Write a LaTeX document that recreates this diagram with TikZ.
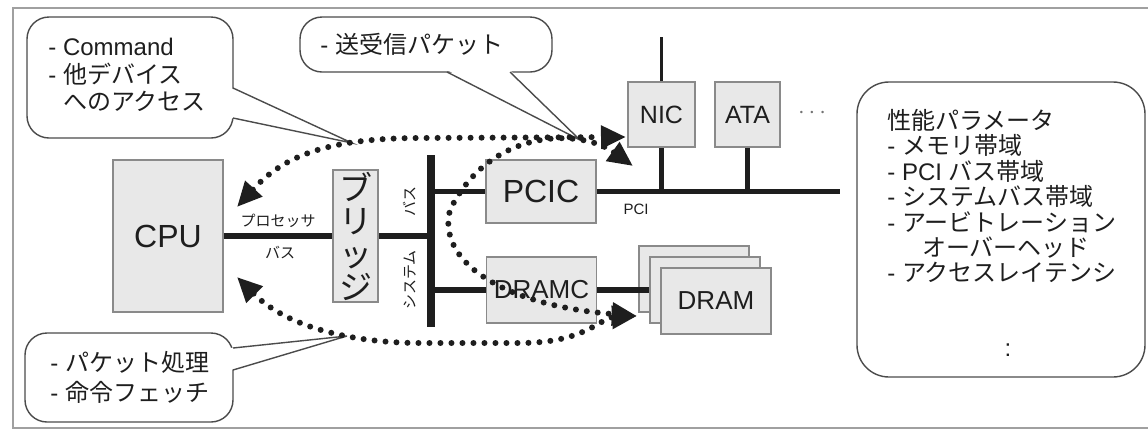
\documentclass[tikz,border=0pt]{standalone}
\usepackage{fontspec}
\setmainfont{Liberation Sans}
\newfontfamily\jpfont{Noto Sans CJK JP}
\usetikzlibrary{arrows.meta}
\definecolor{boxgray}{HTML}{E8E8E8}
\definecolor{edgegray}{HTML}{8A8A8A}
\definecolor{ink}{HTML}{1E1E1E}
\definecolor{framegray}{HTML}{A0A0A0}
\tikzset{
  unit/.style={draw=edgegray,fill=boxgray,line width=0.8pt,inner sep=0pt,
    minimum width=55pt,minimum height=33pt,font=\fontsize{13}{15}\selectfont},
  callout/.style={draw=ink!80,fill=white,line width=0.7pt,rounded corners=11pt},
  tail/.style={draw=ink!80,line width=0.7pt},
  note/.style={align=left,inner sep=0pt,anchor=north west,
    font=\fontsize{12}{13.75}\selectfont},
  bus/.style={line width=2.6pt,draw=ink},
  tiny/.style={inner sep=0pt,font=\jpfont\fontsize{7.5}{9}\selectfont},
  dotflow/.style={draw=ink,line width=3pt,line cap=round,
    dash pattern=on 0pt off 5.5pt,<->},
  >={Triangle[length=12.5pt,width=11pt]}
}

\begin{document}
\begin{tikzpicture}[x=0.5pt,y=-0.5pt,font=\fontsize{12}{14}\selectfont,text=ink]
  \useasboundingbox (0,0) rectangle (1148,430);
  \draw[framegray,line width=1.4pt] (1152,8) -- (13,8) -- (13,428) -- (1152,428);

  % speech bubbles
  \coordinate (tipA) at (352,143);
  \draw[callout] (27,17) rectangle (233,138);
  \fill[white] (231,88) -- (tipA) -- (231,118) -- cycle;
  \draw[tail] (233,88) -- (tipA) -- (233,118);
  \node[note] (cmdnote) at (48,38)
    {- Command\\- {\jpfont 他デバイス}\\\phantom{- }{\jpfont へのアクセス}};

  \coordinate (tipB) at (580,140);
  \draw[callout] (300,17) rectangle (552,72);
  \fill[white] (447,70) -- (tipB) -- (510,70) -- cycle;
  \draw[tail] (447,72) -- (tipB) -- (510,72);
  \node[note,anchor=west] (pktnote) at (320,44) {- {\jpfont 送受信パケット}};

  \coordinate (tipC) at (347,336);
  \draw[callout] (25,333) rectangle (233,422);
  \fill[white] (231,348) -- (tipC) -- (231,370) -- cycle;
  \draw[tail] (233,348) -- (tipC) -- (233,370);
  \node[note,font=\fontsize{12}{15}\selectfont] (cpunote) at (50,351)
    {- {\jpfont パケット処理}\\- {\jpfont 命令フェッチ}};

  % parameters
  \draw[draw=ink!80,line width=0.7pt,rounded corners=16pt] (857,82) rectangle (1145,377);
  \node[note,font=\fontsize{12}{12.7}\selectfont] (params) at (887,109)
    {{\jpfont 性能パラメータ}\\
     - {\jpfont メモリ帯域}\\
     - PCI {\jpfont バス帯域}\\
     - {\jpfont システムバス帯域}\\
     - {\jpfont アービトレーション}\\
     \phantom{- }\hspace{10pt}{\jpfont オーバーヘッド}\\
     - {\jpfont アクセスレイテンシ}};
  \node[inner sep=0pt] (pvdots) at (1008,350) {:};

  % components
  \node[unit,minimum width=55pt,minimum height=76pt,font=\fontsize{16}{18}\selectfont]
    (cpu) at (168,236) {CPU};
  \node[unit,minimum width=22.5pt,minimum height=66pt,align=center,
    font=\jpfont\fontsize{16.5}{16.5}\selectfont] (bridge) at (355.5,236) {ブ\\リ\\ッ\\ジ};
  \node[unit,minimum height=31.5pt,font=\fontsize{16}{18}\selectfont]
    (pcic) at (541,191.5) {PCIC};
  \node[unit,minimum width=33.5pt,minimum height=32.5pt,font=\fontsize{12.5}{14}\selectfont]
    (nic) at (661.5,114.5) {NIC};
  \node[unit,minimum width=32.5pt,minimum height=32.5pt,font=\fontsize{12.5}{14}\selectfont]
    (ata) at (747.5,114.5) {ATA};
  \node[text=black!55] (more) at (812,113) {$\cdots$};
  \node[unit] (dramc) at (541.5,290) {DRAMC};
  \node[unit] (dramback) at (694,279) {};
  \draw[bus] (dramc.east) -- (dramc.east -| dramback.west) -- ++(14,0);
  \node[unit] (drammid) at (705,290) {};
  \node[unit] (dram) at (716,301) {DRAM};

  % buses
  \coordinate (sysTop) at (431,155);
  \coordinate (sysBot) at (431,327);
  \coordinate (pciEnd) at (840,191.5);
  \coordinate (netTop) at (661.5,37);
  \draw[bus,line width=3.6pt] (sysTop) -- (sysBot);
  \draw[bus] (cpu) -- (bridge);
  \draw[bus] (bridge.east) -- (bridge.east -| sysTop);
  \draw[bus] (pcic.west -| sysTop) -- (pcic.west);
  \draw[bus] (dramc.west -| sysTop) -- (dramc.west);
  \draw[bus] (pcic.east) -- (pciEnd);
  \draw[bus,line width=2.1pt] (nic.south) -- (nic.south |- pciEnd);
  \draw[bus,line width=2.1pt] (ata.south) -- (ata.south |- pciEnd);
  \draw[bus,line width=1.1pt] (nic.north) -- (netTop);

  \node[tiny] (pbusup) at (278,221) {プロセッサ};
  \node[tiny] (pbusdn) at (280,253) {バス};
  \node[tiny,rotate=90] (sbusup) at (410,201) {バス};
  \node[tiny,rotate=90] (sbusdn) at (410,280) {システム};
  \node[inner sep=0pt,font=\fontsize{7.5}{9}\selectfont] (pcilbl) at (636,209) {PCI};

  % traffic
  \coordinate (cpuUp) at (237,207);
  \coordinate (cpuDn) at (237,277);
  \coordinate (nicIn) at (626,137);
  \coordinate (nicDn) at (633,166);
  \coordinate (dramIn) at (637,316);
  \draw[dotflow] (cpuUp) .. controls (280,160) and (320,138) .. (420,138) -- (nicIn);
  \draw[dotflow] (nicDn) .. controls (580,128) and (490,128) .. (450,210)
    .. controls (437,260) and (500,305) .. (dramIn);
  \draw[dotflow] (cpuDn) .. controls (290,330) and (360,343) .. (420,343) -- (520,343)
    .. controls (585,343) and (600,318) .. (dramIn);
\end{tikzpicture}
\end{document}
